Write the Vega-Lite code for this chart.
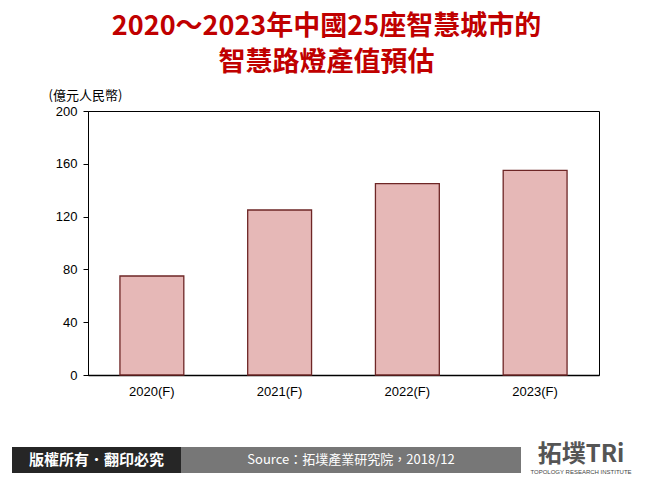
{
  "$schema": "https://vega.github.io/schema/vega-lite/v6.json",
  "background": "#ffffff",
  "padding": {"left": 12, "top": 12, "right": 8, "bottom": 6},
  "title": {
    "text": ["2020～2023年中國25座智慧城市的", "智慧路燈產值預估"],
    "font": "Noto Sans CJK TC",
    "fontSize": 27,
    "fontWeight": "bold",
    "color": "#c00000",
    "lineHeight": 36,
    "anchor": "middle",
    "offset": 12
  },
  "config": {"view": {"stroke": null}},
  "spacing": 44,
  "vconcat": [
    {
      "spacing": 0,
      "hconcat": [
        {
          "width": 35,
          "height": 264,
          "view": {"fill": null, "stroke": null},
          "mark": {"type": "rule", "opacity": 0},
          "encoding": {}
        },
        {
          "width": 511,
          "height": 264,
          "view": {"stroke": "#000000", "strokeWidth": 1},
          "data": {
            "values": [
              {"year": "2020(F)", "value": 75},
              {"year": "2021(F)", "value": 125},
              {"year": "2022(F)", "value": 145},
              {"year": "2023(F)", "value": 155}
            ]
          },
          "mark": {"type": "bar", "fill": "#e6b8b7", "stroke": "#6e2626", "strokeWidth": 1.3},
          "encoding": {
            "x": {
              "field": "year",
              "type": "ordinal",
              "sort": null,
              "scale": {"paddingInner": 0.5, "paddingOuter": 0.25},
              "axis": {
                "title": null,
                "labelAngle": 0,
                "ticks": false,
                "labelPadding": 10,
                "labelFont": "Liberation Sans",
                "labelFontSize": 13,
                "labelColor": "#000000",
                "domainColor": "#000000",
                "domainWidth": 1.5
              }
            },
            "y": {
              "field": "value",
              "type": "quantitative",
              "scale": {"domain": [0, 200]},
              "axis": {
                "values": [0, 40, 80, 120, 160, 200],
                "grid": false,
                "title": "(億元人民幣)",
                "titleAngle": 0,
                "titleAlign": "left",
                "titleBaseline": "middle",
                "titleX": -40,
                "titleY": -16,
                "titleFont": "Noto Sans CJK TC",
                "titleFontSize": 13,
                "titleFontWeight": "normal",
                "titleColor": "#000000",
                "labelFont": "Liberation Sans",
                "labelFontSize": 13,
                "labelColor": "#000000",
                "labelPadding": 6,
                "tickColor": "#000000",
                "tickSize": 5,
                "domainColor": "#000000"
              }
            }
          }
        }
      ]
    },
    {
      "spacing": 0,
      "hconcat": [
        {
          "width": 169,
          "height": 26,
          "view": {"fill": "#262626", "stroke": null},
          "data": {"values": [{"label": "版權所有．翻印必究"}]},
          "mark": {"type": "text", "color": "#ffffff", "font": "Noto Sans CJK TC", "fontSize": 15, "fontWeight": "bold"},
          "encoding": {"text": {"field": "label"}}
        },
        {
          "width": 340,
          "height": 26,
          "view": {"fill": "#777777", "stroke": null},
          "data": {"values": [{"label": "Source：拓墣產業研究院，2018/12"}]},
          "mark": {"type": "text", "color": "#ffffff", "font": "Noto Sans CJK TC", "fontSize": 13},
          "encoding": {"text": {"field": "label"}}
        },
        {
          "width": 120,
          "height": 26,
          "view": {"fill": null, "stroke": null},
          "data": {"values": [{"label": "拓墣TRi", "sub": "TOPOLOGY RESEARCH INSTITUTE"}]},
          "layer": [
            {
              "mark": {"type": "text", "color": "#555555", "font": "Noto Sans CJK TC", "fontSize": 24, "fontWeight": "bold", "dy": -5},
              "encoding": {"text": {"field": "label"}}
            },
            {
              "mark": {"type": "text", "color": "#444444", "font": "Liberation Sans", "fontSize": 6, "dy": 12},
              "encoding": {"text": {"field": "sub"}}
            }
          ]
        }
      ]
    }
  ]
}
